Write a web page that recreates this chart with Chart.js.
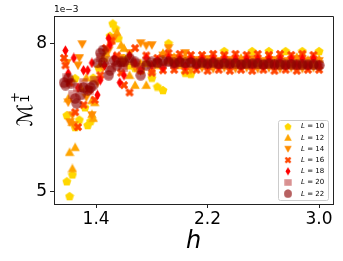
<!DOCTYPE html>
<html><head><meta charset="utf-8">
<script src="https://cdn.jsdelivr.net/npm/chart.js@4/dist/chart.umd.min.js"></script>
<style>html,body{margin:0;padding:0;background:#fff;}canvas{display:block;}</style>
</head><body>
<canvas id="c" width="343" height="261"></canvas>
<script>
// ---- data (values in units of 1e-3) ----
const seriesLabels = ['10', '12', '14', '16', '18', '20', '22'];
const xTicks = [1.4, 2.2, 3.0];
const yTicks = [5, 8];
const offsetLabel = '1e\u22123';
const xTitle = 'h';

const hTail = [1.60,1.64,1.68,1.72,1.76,1.80,1.84,1.88,1.92,1.96,2.00,2.04,2.08,2.12,2.16,2.20,2.24,2.28,2.32,2.36,2.40,2.44,2.48,2.52,2.56,2.60,2.64,2.68,2.72,2.76,2.80,2.84,2.88,2.92,2.96,3.00];

const h10 = [1.19,1.21,1.23,1.19,1.25,1.25,1.28,1.32,1.34,1.36,1.38,1.42,1.46,1.50,1.52,1.54,1.56];
const m10 = [5.20,4.90,5.34,6.54,6.30,7.29,6.45,6.70,6.34,6.42,7.30,7.50,7.70,8.15,8.40,8.30,8.10];
const t10 = [7.70,7.55,7.50,7.45,7.60,7.30,7.12,7.05,8.00,7.62,7.65,7.40,7.38,7.62,7.60,7.62,7.60,7.62,7.84,7.62,7.60,7.62,7.60,7.84,7.62,7.60,7.84,7.62,7.60,7.84,7.62,7.60,7.84,7.62,7.60,7.84];

const h12 = [1.20,1.21,1.23,1.23,1.25,1.29,1.33,1.37,1.37,1.38,1.39,1.43,1.47,1.51,1.55,1.58];
const m12 = [6.88,5.79,5.46,6.40,5.89,7.10,7.30,6.56,6.84,6.48,6.80,7.55,7.80,8.05,8.22,7.96];
const t12 = [7.90,7.35,7.15,7.60,7.15,7.45,7.55,7.80,7.65,7.72,7.55,7.72,7.66,7.60,7.70,7.62,7.72,7.60,7.66,7.62,7.60,7.70,7.62,7.66,7.72,7.60,7.66,7.62,7.70,7.60,7.66,7.72,7.60,7.66,7.62,7.68];

const h14 = [1.19,1.20,1.21,1.23,1.24,1.27,1.28,1.30,1.33,1.37,1.41,1.45,1.49,1.53,1.57];
const m14 = [7.60,6.80,6.40,6.54,6.34,7.55,7.70,7.98,6.90,6.54,7.20,7.50,7.85,8.10,7.70];
const t14 = [7.60,7.80,7.50,8.00,7.95,7.96,7.60,7.75,7.90,7.70,7.62,7.80,7.46,7.66,7.50,7.68,7.48,7.64,7.50,7.66,7.48,7.64,7.50,7.68,7.48,7.64,7.50,7.66,7.48,7.64,7.50,7.68,7.48,7.64,7.50,7.64];

const h16 = [1.17,1.18,1.21,1.25,1.27,1.31,1.35,1.39,1.43,1.47,1.51,1.55,1.58];
const m16 = [7.70,7.55,7.20,6.60,6.30,6.75,7.05,6.85,7.35,7.90,8.05,7.75,7.40];
const t16 = [7.15,7.00,7.90,7.45,7.75,7.40,7.70,7.45,7.80,7.46,7.78,7.44,7.76,7.46,7.76,7.44,7.78,7.46,7.76,7.44,7.78,7.46,7.76,7.44,7.78,7.46,7.76,7.44,7.78,7.46,7.76,7.44,7.78,7.46,7.76,7.46];

const h18 = [1.18,1.20,1.24,1.27,1.31,1.34,1.37,1.41,1.43,1.46,1.49,1.50,1.53,1.57];
const m18 = [7.85,7.39,7.70,7.10,7.45,7.45,7.60,6.95,7.25,7.55,8.10,7.96,7.70,7.20];
const t18 = [7.35,7.75,7.60,7.45,7.70,7.55,7.65,7.50,7.70,7.56,7.68,7.54,7.68,7.54,7.68,7.56,7.68,7.54,7.68,7.56,7.68,7.54,7.68,7.56,7.68,7.54,7.68,7.56,7.68,7.54,7.68,7.56,7.68,7.54,7.68,7.56];

const h20 = [1.19,1.23,1.27,1.31,1.35,1.39,1.43,1.47,1.51,1.55,1.59];
const m20 = [7.30,6.95,7.10,7.20,7.05,7.25,7.70,7.65,7.50,7.60,7.55];
const t20 = [7.50,7.65,7.58,7.50,7.62,7.56,7.60,7.58,7.62,7.57,7.60,7.58,7.61,7.57,7.60,7.58,7.61,7.57,7.60,7.58,7.60,7.57,7.59,7.58,7.60,7.57,7.59,7.58,7.60,7.57,7.59,7.57,7.58,7.57,7.58,7.56];

const h22 = [1.17,1.18,1.20,1.22,1.25,1.26,1.29,1.31,1.34,1.36,1.38,1.41,1.43,1.45,1.45,1.49,1.50,1.53,1.55,1.58];
const m22 = [7.20,7.15,7.29,7.19,6.88,6.78,6.95,7.10,7.05,7.10,7.15,7.60,7.80,7.86,7.61,7.35,7.45,7.65,7.55,7.62];
const t22 = [7.62,7.70,7.62,7.35,7.55,7.62,7.60,7.64,7.62,7.60,7.62,7.60,7.61,7.59,7.60,7.58,7.60,7.58,7.59,7.58,7.59,7.57,7.58,7.58,7.58,7.57,7.58,7.57,7.57,7.56,7.57,7.56,7.56,7.56,7.56,7.55];

// ---- styles ----
const styles = [
  {shape:'pentagon', color:'rgba(255,215,0,1)', size:10},
  {shape:'triUp', color:'rgba(255,165,0,1)', size:10},
  {shape:'triDown', color:'rgba(255,140,0,1)', size:10},
  {shape:'X', color:'rgba(255,69,0,1)', size:10},
  {shape:'thinDiamond', color:'rgba(255,0,0,1)', size:11},
  {shape:'square', color:'rgba(178,34,34,0.5)', size:9},
  {shape:'circle', color:'rgba(139,0,0,0.62)', size:11}
];

function makeSprite(shape, fill, size) {
  const c = document.createElement('canvas');
  c.width = size; c.height = size;
  const g = c.getContext('2d');
  g.fillStyle = fill;
  const cx = size / 2, cy = size / 2, r = size / 2 - 0.3;
  g.beginPath();
  if (shape === 'pentagon') {
    for (let k = 0; k < 5; k++) {
      const a = -Math.PI / 2 + k * 2 * Math.PI / 5;
      const px = cx + r * Math.cos(a), py = cy + 0.5 + r * Math.sin(a);
      if (k === 0) g.moveTo(px, py); else g.lineTo(px, py);
    }
  } else if (shape === 'triUp') {
    g.moveTo(cx, cy - r); g.lineTo(cx + r, cy + r * 0.8); g.lineTo(cx - r, cy + r * 0.8);
  } else if (shape === 'triDown') {
    g.moveTo(cx, cy + r); g.lineTo(cx + r, cy - r * 0.8); g.lineTo(cx - r, cy - r * 0.8);
  } else if (shape === 'X') {
    const a = r * 0.95, w = r * 0.33;
    const pts = [[-w,-a],[w,-a],[w,-w],[a,-w],[a,w],[w,w],[w,a],[-w,a],[-w,w],[-a,w],[-a,-w],[-w,-w]];
    pts.forEach((p, k) => {
      const px = cx + (p[0] - p[1]) / Math.SQRT2, py = cy + (p[0] + p[1]) / Math.SQRT2;
      if (k === 0) g.moveTo(px, py); else g.lineTo(px, py);
    });
  } else if (shape === 'thinDiamond') {
    g.moveTo(cx, cy - r); g.lineTo(cx + r * 0.6, cy); g.lineTo(cx, cy + r); g.lineTo(cx - r * 0.6, cy);
  } else if (shape === 'square') {
    g.rect(cx - r, cy - r, 2 * r, 2 * r);
  } else {
    g.arc(cx, cy, r, 0, Math.PI * 2);
  }
  g.closePath();
  g.fill();
  return c;
}
const sprites = styles.map(s => makeSprite(s.shape, s.color, s.size));

const lefts = [[h10,m10],[h12,m12],[h14,m14],[h16,m16],[h18,m18],[h20,m20],[h22,m22]];
const tails = [t10,t12,t14,t16,t18,t20,t22];

const datasets = seriesLabels.map((lab, i) => ({
  label: 'L = ' + lab,
  data: lefts[i][0].map((h, j) => ({x: h, y: lefts[i][1][j]}))
        .concat(hTail.map((h, j) => ({x: h, y: tails[i][j]}))),
  pointStyle: sprites[i],
  pointRadius: 5,
  showLine: false,
  order: seriesLabels.length - i   // larger L drawn on top
}));

const decor = {
  id: 'decor',
  afterDraw(chart) {
    const ctx = chart.ctx, a = chart.chartArea;
    ctx.save();
    ctx.strokeStyle = '#222'; ctx.lineWidth = 1;
    ctx.beginPath();
    ctx.moveTo(a.left, a.top + 0.5); ctx.lineTo(a.right + 0.5, a.top + 0.5); ctx.lineTo(a.right + 0.5, a.bottom);
    ctx.stroke();
    ctx.fillStyle = '#000';
    ctx.font = '9px "DejaVu Sans"';
    ctx.textAlign = 'left'; ctx.textBaseline = 'alphabetic';
    ctx.fillText(offsetLabel, a.left, a.top - 4);
    ctx.font = 'italic 24px "DejaVu Sans"';
    ctx.textAlign = 'center';
    ctx.fillText(xTitle, (a.left + a.right) / 2, 248);
    ctx.translate(32, (a.top + a.bottom) / 2 - 1);
    ctx.rotate(-Math.PI / 2);
    ctx.textAlign = 'left';
    ctx.font = '21px "DejaVu Sans"';
    const wM = ctx.measureText('\u2133').width;
    ctx.font = '13px "DejaVu Sans"';
    const wS = Math.max(ctx.measureText('1').width, ctx.measureText('+').width);
    const x0 = -(wM + wS + 1) / 2;
    ctx.font = '21px "DejaVu Sans"';
    ctx.fillText('\u2133', x0, 0);
    ctx.font = '13px "DejaVu Sans"';
    ctx.fillText('1', x0 + wM + 1, -3);
    ctx.fillText('+', x0 + wM + 1, -13);
    ctx.restore();

    ctx.save();
    const bx = 278, by = 120, bw = 50, bh = 80;
    ctx.fillStyle = 'rgba(255,255,255,0.8)';
    ctx.strokeStyle = '#cccccc';
    ctx.lineWidth = 1;
    ctx.beginPath();
    ctx.roundRect(bx + 0.5, by + 0.5, bw, bh, 2);
    ctx.fill(); ctx.stroke();
    ctx.textBaseline = 'middle';
    ctx.fillStyle = '#000';
    seriesLabels.forEach((lab, i) => {
      const y = by + 6.5 + i * 11.2;
      const sp = sprites[i];
      const w = sp.width * 0.8, h = sp.height * 0.8;
      ctx.drawImage(sp, 288 - w / 2, y - h / 2, w, h);
      ctx.font = 'italic 7px "DejaVu Sans"';
      ctx.fillText('L', 301, y);
      const wl = ctx.measureText('L').width;
      ctx.font = '7px "DejaVu Sans"';
      ctx.fillText(' = ' + lab, 301 + wl, y);
    });
    ctx.restore();
  }
};

new Chart(document.getElementById('c'), {
  type: 'scatter',
  data: {datasets},
  options: {
    responsive: false,
    animation: false,
    devicePixelRatio: 1,
    events: [],
    layout: {padding: {top: 16, right: 10, left: 0, bottom: 0}},
    plugins: {legend: {display: false}, tooltip: {enabled: false}},
    scales: {
      x: {
        type: 'linear', min: 1.098, max: 3.10,
        afterBuildTicks: s => { s.ticks = xTicks.map(v => ({value: v})); },
        afterFit: s => { s.height = 57; },
        ticks: {color: '#000', font: {family: 'DejaVu Sans', size: 17}, padding: 1, maxRotation: 0,
                callback: v => Number(v).toFixed(1)},
        grid: {drawOnChartArea: false, drawTicks: true, tickLength: 4, color: '#222'},
        border: {display: true, color: '#222', width: 1}
      },
      y: {
        type: 'linear', min: 4.74, max: 8.55,
        afterBuildTicks: s => { s.ticks = yTicks.map(v => ({value: v})); },
        afterFit: s => { s.width = 54; },
        ticks: {color: '#000', font: {family: 'DejaVu Sans', size: 17}, padding: 3,
                callback: v => String(v)},
        grid: {drawOnChartArea: false, drawTicks: true, tickLength: 4, color: '#222'},
        border: {display: true, color: '#222', width: 1}
      }
    }
  },
  plugins: [decor]
});
</script>
</body></html>
